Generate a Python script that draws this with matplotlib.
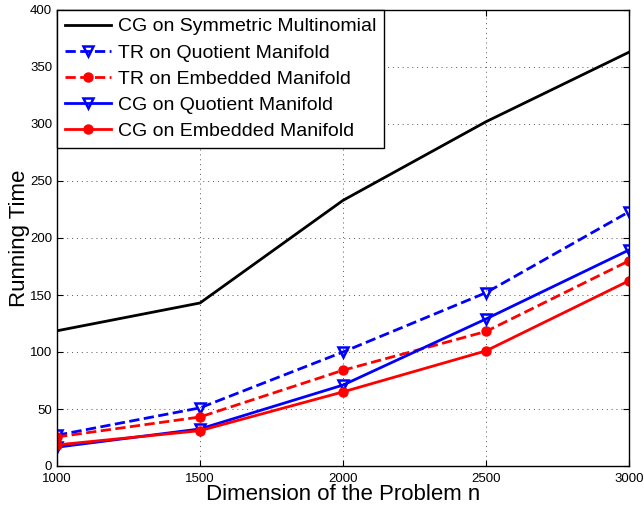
import matplotlib
matplotlib.use("Agg")
import matplotlib.pyplot as plt

plt.rcParams['font.family'] = ['Liberation Sans', 'DejaVu Sans']

n = [1000, 1500, 2000, 2500, 3000]
cg_sym = [118.6, 143, 233, 302, 363]
tr_quot = [27, 51, 100, 152, 223]
tr_emb = [25.5, 43, 84, 118, 180]
cg_quot = [16.5, 32.5, 71, 129, 189.5]
cg_emb = [18.5, 31, 65, 101, 162.5]

labels = ["CG on Symmetric Multinomial", "TR on Quotient Manifold",
          "TR on Embedded Manifold", "CG on Quotient Manifold",
          "CG on Embedded Manifold"]
xticks = [1000, 1500, 2000, 2500, 3000]
yticks = list(range(0, 401, 50))

fig = plt.figure(figsize=(6.44, 5.09), dpi=100)
ax = fig.add_axes([57/644, 43/509, 572/644, 456/509])

lw = 2.0
ax.plot(n, cg_sym, '-', color='black', lw=lw, label=labels[0])
ax.plot(n, tr_quot, '--', color='blue', lw=lw, marker='v', ms=7.5,
        mfc='none', mec='blue', mew=1.8, label=labels[1])
ax.plot(n, tr_emb, '--', color='red', lw=lw, marker='o', ms=6.5,
        mfc='red', mec='red', label=labels[2])
ax.plot(n, cg_quot, '-', color='blue', lw=lw, marker='v', ms=7.5,
        mfc='none', mec='blue', mew=1.8, label=labels[3])
ax.plot(n, cg_emb, '-', color='red', lw=lw, marker='o', ms=6.5,
        mfc='red', mec='red', label=labels[4])

ax.set_xlim(1000, 3000)
ax.set_ylim(0, 400)
ax.set_xticks(xticks)
ax.set_yticks(yticks)
ax.tick_params(direction='in', top=True, right=True, labelsize=9.5,
               length=4, width=0.8)
ax.tick_params(axis='x', pad=5)
for s in ax.spines.values():
    s.set_linewidth(1.0)
ax.grid(True, linestyle=(0, (1, 4)), color='#555555', linewidth=0.7)

ax.set_xlabel("Dimension of the Problem n", fontsize=16, labelpad=-1)
ax.set_ylabel("Running Time", fontsize=16, labelpad=0)

leg = ax.legend(loc='upper left', fontsize=14, frameon=True, fancybox=False,
                borderaxespad=0.0, handlelength=2.4, labelspacing=0.44,
                borderpad=0.4, handletextpad=0.35)
leg.get_frame().set_edgecolor('black')
leg.get_frame().set_linewidth(1.0)
leg.get_frame().set_alpha(1)

fig.savefig("out.png", dpi=100)
